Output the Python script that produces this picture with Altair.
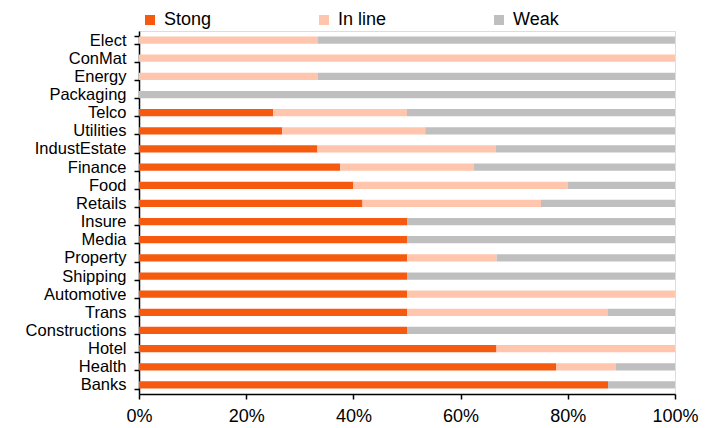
import altair as alt
import pandas as pd

categories = ["Elect", "ConMat", "Energy", "Packaging", "Telco", "Utilities",
              "IndustEstate", "Finance", "Food", "Retails", "Insure", "Media",
              "Property", "Shipping", "Automotive", "Trans", "Constructions",
              "Hotel", "Health", "Banks"]
strong = [0, 0, 0, 0, 25.0, 26.7, 33.3, 37.5, 40.0, 41.7, 50, 50, 50, 50, 50, 50, 50, 66.7, 77.8, 87.5]
inline = [33.3, 100, 33.3, 0, 25.0, 26.7, 33.3, 25.0, 40.0, 33.3, 0, 0, 16.7, 0, 50, 37.5, 0, 33.3, 11.1, 0]
weak = [66.7, 0, 66.7, 100, 50.0, 46.6, 33.4, 37.5, 20.0, 25.0, 50, 50, 33.3, 50, 0, 12.5, 50, 0, 11.1, 12.5]
series = ["Stong", "In line", "Weak"]
colors = ["#F55A0F", "#FFC6AD", "#BFBFBF"]

rows = []
for i, c in enumerate(categories):
    for k, (name, vals) in enumerate(zip(series, [strong, inline, weak])):
        rows.append({"cat": c, "series": name, "value": vals[i], "ord": k})
df = pd.DataFrame(rows)

font = "Liberation Sans"

chart = alt.Chart(df).mark_bar().encode(
    y=alt.Y("cat:N", sort=categories, title=None,
            scale=alt.Scale(paddingInner=0.6, paddingOuter=0.3),
            axis=alt.Axis(tickBand="extent", labelFont=font, labelFontSize=16.5,
                          labelColor="black", domainColor="black", tickColor="black",
                          tickSize=5, labelPadding=8, domainWidth=1.5, tickWidth=1.5)),
    x=alt.X("value:Q", stack="normalize", title=None,
            scale=alt.Scale(domain=[0, 1], nice=False),
            axis=alt.Axis(format="%", values=[0, 0.2, 0.4, 0.6, 0.8, 1.0], grid=False,
                          labelFont=font, labelFontSize=18, labelColor="black",
                          domainColor="black", tickColor="black", tickSize=5,
                          domainWidth=1.5, tickWidth=1.5, labelPadding=8,
                          labelFlush=False)),
    color=alt.Color("series:N", sort=series,
                    scale=alt.Scale(domain=series, range=colors),
                    legend=alt.Legend(title=None, orient="none", direction="horizontal",
                                      legendX=2, legendY=-20,
                                      symbolType="square", symbolSize=100,
                                      symbolStrokeWidth=0, labelFont=font,
                                      labelFontSize=18, labelColor="black",
                                      columnPadding=103, padding=0, labelOffset=5)),
    order=alt.Order("ord:Q"),
).properties(
    width=536, height=363,
    padding={"left": 17, "top": 3, "right": 5, "bottom": 2},
).configure_view(stroke=None).configure(background="white")

chart.save("out.html", embed_options={"renderer": "svg", "actions": False})
